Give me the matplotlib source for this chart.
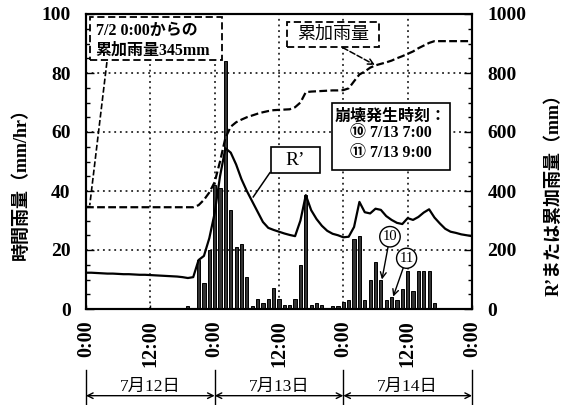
import matplotlib
matplotlib.use('Agg')
import matplotlib.pyplot as plt
import matplotlib.transforms as mtransforms
from matplotlib.patches import Rectangle
from matplotlib.ticker import MultipleLocator

plt.rcParams['font.family'] = ['Liberation Serif', 'Noto Sans CJK JP']

# hours counted from 7/12 0:00
rain_hours = [19, 21, 22, 23, 24, 25, 26, 27, 28, 29, 30, 31, 32, 33, 34, 35, 36, 37, 38, 39,
              40, 41, 42, 43, 44, 46, 47, 48, 49, 50, 51, 52, 53, 54, 55, 56, 57, 58, 59,
              60, 61, 62, 63, 64, 65]
rain_vals = [1.0, 16.6, 8.8, 20, 42, 41, 84, 33.7, 21, 22, 11, 1.1, 3.3, 1.9, 3.3, 7, 3.3, 1.2, 1.2, 3.3,
             15, 38.6, 1.4, 1.9, 1.2, 0.9, 0.9, 2.5, 3, 23.7, 24.9, 3, 9.8, 16, 9.8, 3, 4, 3, 6.8,
             13, 6.2, 13, 13, 13, 1.9]

rp_hours = list(range(0, 73))
rp_vals = [123, 123, 122, 121, 120, 120, 119, 118, 118, 117, 116, 116, 115, 114, 113, 112, 111, 110,
           108, 105, 108, 166, 180, 240, 325, 450, 545, 530, 490, 440, 400, 365, 330, 295, 275, 268,
           262, 256, 251, 247, 300, 386, 335, 305, 282, 265, 255, 250, 243, 245, 278, 363, 328, 324,
           340, 336, 315, 302, 292, 288, 308, 302, 312, 327, 338, 310, 290, 272, 262, 258, 253, 250, 247]

cum_hours = [0, 20, 21, 22, 23, 24, 25, 26, 27, 28, 29, 30, 31, 32, 33, 34, 35, 36, 37, 38, 39, 40,
             41, 42, 43, 44, 45, 46, 47, 48, 49, 50, 51, 52, 53, 54, 55, 56, 57, 58, 59, 60, 61,
             62, 63, 64, 65, 72]
cum_vals = [345, 345, 352, 370, 395, 430, 500, 580, 618, 633, 642, 650, 656, 662, 667, 671, 674, 675,
            676, 677, 684, 700, 735, 737, 738, 739, 740, 741, 741, 742, 748, 772, 795, 805, 818, 826,
            831, 836, 842, 850, 857, 865, 873, 884, 893, 902, 908, 908]

xtick_hours = [0, 12, 24, 36, 48, 60, 72]
xtick_labels = ['0:00', '12:00', '0:00', '12:00', '0:00', '12:00', '0:00']
day_edges = [0, 24, 48, 72]
day_labels = ['7月12日', '7月13日', '7月14日']

fig = plt.figure(figsize=(5.66, 4.05), dpi=100)
ax = fig.add_axes([86 / 566, 96 / 405, 386 / 566, 295 / 405])
ax2 = ax.twinx()

ax.bar(rain_hours, rain_vals, width=0.6, color='#333333', edgecolor='black', linewidth=0.7, zorder=3)
ax2.plot(rp_hours, rp_vals, color='black', lw=1.6, zorder=4)
ax2.plot(cum_hours, cum_vals, color='black', lw=1.6, dashes=(3.5, 1.5), zorder=4)

ax.set_xlim(0, 72)
ax.set_ylim(0, 100)
ax2.set_ylim(0, 1000)
ax.set_xticks(xtick_hours)
ax.set_xticklabels(xtick_labels, rotation=90)
ax.yaxis.set_major_locator(MultipleLocator(20))
ax.yaxis.set_minor_locator(MultipleLocator(5))
ax2.yaxis.set_major_locator(MultipleLocator(200))
ax2.yaxis.set_minor_locator(MultipleLocator(50))
ax.grid(True, which='major', color='black', linestyle=(0, (1.2, 2.5)), lw=1.1)

ax.tick_params(axis='y', which='major', direction='in', length=6, width=1, labelsize=14, pad=11)
ax.tick_params(axis='y', which='minor', direction='in', length=3, width=1)
ax2.tick_params(axis='y', which='major', direction='in', length=6, width=1, labelsize=14, pad=11)
ax2.tick_params(axis='y', which='minor', direction='in', length=3, width=1)
ax.tick_params(axis='x', direction='in', length=3, width=1, labelsize=14.5, pad=8)
for lab in ax.get_xticklabels() + ax.get_yticklabels() + ax2.get_yticklabels():
    lab.set_fontweight('bold')
for a in (ax, ax2):
    for s in a.spines.values():
        s.set_linewidth(1.5)

ax.set_ylabel('時間雨量（mm/hr）', fontsize=13, fontweight='bold')
ax.yaxis.set_label_coords(-0.145, 0.44)
ax2.set_ylabel('R’または累加雨量（mm）', fontsize=13, fontweight='bold', rotation=90)
ax2.yaxis.set_label_coords(1.19, 0.40)

# box: cumulative rain since 7/2
ax2.add_patch(Rectangle((0.75, 844), 24.6, 146, fill=True, fc='white', ec='black', lw=1.3,
                        ls=(0, (4, 2)), zorder=6, clip_on=False))
ax2.text(1.8, 942, '7/2 0:00からの', fontsize=11.5, fontweight='bold', va='center', zorder=7)
ax2.text(1.8, 875, '累加雨量345mm', fontsize=11.5, fontweight='bold', va='center', zorder=7)
ax2.plot([3.9, 0.7], [837, 352], color='black', lw=1.2, dashes=(3.5, 1.5), zorder=5)

# box: cumulative label
ax2.add_patch(Rectangle((37.5, 888), 17.2, 85, fc='white', ec='black', lw=1.3,
                        ls=(0, (4, 2)), zorder=6))
ax2.text(46.1, 930, '累加雨量', fontsize=13, ha='center', va='center', zorder=7)
ax2.annotate('', xy=(53.9, 827), xytext=(47.9, 886),
             arrowprops=dict(arrowstyle='->', lw=1.1, ls='--', shrinkA=0, shrinkB=0), zorder=6)

# R' label
ax2.add_patch(Rectangle((34.5, 461), 9.2, 88, fc='white', ec='black', lw=1.2, zorder=6))
ax2.text(39.1, 505, 'R’', fontsize=14, ha='center', va='center', zorder=7)
ax2.plot([34.3, 31.2], [462, 380], color='black', lw=1.1, zorder=6)

# failure time box
ax2.add_patch(Rectangle((45.9, 471), 22.0, 227, fc='white', ec='black', lw=1.2, zorder=6))
ax2.text(56.9, 651, '崩壊発生時刻：', fontsize=11.5, fontweight='bold', ha='center', va='center', zorder=7)
ax2.text(56.9, 597, '⑩ 7/13 7:00', fontsize=11.5, fontweight='bold', ha='center', va='center', zorder=7)
ax2.text(56.9, 529, '⑪ 7/13 9:00', fontsize=11.5, fontweight='bold', ha='center', va='center', zorder=7)

circle = dict(boxstyle='circle,pad=0.2', fc='white', ec='black', lw=1)
ax2.annotate('10', xy=(55.2, 100), xytext=(56.7, 245), fontsize=10.5, ha='center', va='center',
             bbox=circle, arrowprops=dict(arrowstyle='->', lw=1, shrinkA=0, shrinkB=0), zorder=7)
ax2.annotate('11', xy=(57.3, 42), xytext=(59.8, 172), fontsize=10.5, ha='center', va='center',
             bbox=circle, arrowprops=dict(arrowstyle='->', lw=1, shrinkA=0, shrinkB=0), zorder=7)

# day spans under the axis
trans = mtransforms.blended_transform_factory(ax.transData, fig.transFigure)
for x in day_edges:
    ax.plot([x, x], [0, 0.086], color='black', lw=1, transform=trans, clip_on=False)
for i, lab in enumerate(day_labels):
    x0, x1 = day_edges[i], day_edges[i + 1]
    ax.annotate('', xy=(x1, 0.023), xytext=(x0, 0.023), xycoords=trans, textcoords=trans,
                arrowprops=dict(arrowstyle='<->', lw=1, shrinkA=0, shrinkB=0), annotation_clip=False)
    ax.text((x0 + x1) / 2, 0.045, lab, transform=trans, fontsize=12.5, ha='center', va='center')

fig.savefig('out.png', dpi=100)
